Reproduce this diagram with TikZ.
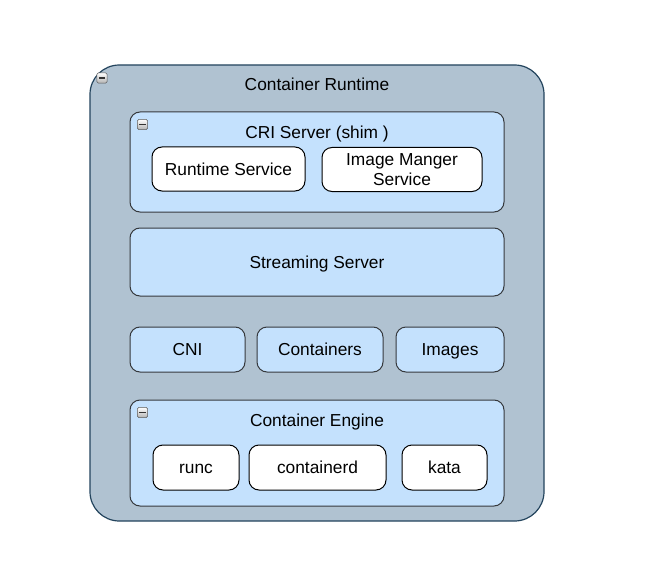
\documentclass[tikz,border=0pt]{standalone}
\usepackage{fontspec}
\setmainfont{Liberation Sans}
\definecolor{outerfill}{HTML}{B0C2D1}
\definecolor{outerdraw}{HTML}{23445D}
\definecolor{innerfill}{HTML}{C4E1FD}
\definecolor{innerdraw}{HTML}{36393D}
\tikzset{
  lbl/.style={font=\fontsize{13pt}{15pt}\selectfont, text=black},
  one/.style={text height=9.4pt, text depth=0pt},
  outerbox/.style={draw=outerdraw, fill=outerfill, line width=0.9pt, rounded corners=22pt, inner sep=0pt},
  groupbox/.style={draw=innerdraw, fill=innerfill, line width=0.75pt, rounded corners=7.5pt, inner sep=0pt},
  leafbox/.style={draw=black, fill=white, line width=0.75pt, rounded corners=7.5pt, inner sep=0pt, align=center, lbl},
  bluebox/.style={draw=innerdraw, fill=innerfill, line width=0.75pt, rounded corners=7.5pt, inner sep=0pt, align=center, lbl},
  iconbox/.style={draw=gray!70!black, top color=white, bottom color=gray!60, line width=0.4pt, rounded corners=1.2pt, minimum size=7.8pt, inner sep=0pt}
}
\begin{document}
\begin{tikzpicture}[x=0.75pt,y=-0.75pt]
\useasboundingbox (0,0) rectangle (649,563);
% outer
\node[outerbox, minimum width=340.5pt, minimum height=342pt] (outer) at (317,293) {};
\node[lbl, one] (outert) at (317,84) {Container Runtime};
\node[iconbox] (outeric) at (102,78) {};
\draw[line width=1pt, black!80] ([xshift=-2.3pt]outeric.center) -- ([xshift=2.3pt]outeric.center);
% CRI
\node[groupbox, minimum width=280.5pt, minimum height=75pt] (cri) at (317,162) {};
\node[lbl, one] (crit) at (317,132) {CRI Server (shim )};
\node[iconbox] (criic) at (142.5,124.5) {};
\draw[line width=1pt, black!80] ([xshift=-2.3pt]criic.center) -- ([xshift=2.3pt]criic.center);
\node[leafbox, one, minimum width=114.75pt, minimum height=33pt] (rs) at (228.5,169) {Runtime Service};
\node[leafbox, minimum width=120pt, minimum height=33pt] (ims) at (402,169.5) {Image Manger\\Service};
% Streaming
\node[bluebox, one, minimum width=280.5pt, minimum height=51pt] (ss) at (317,262) {Streaming Server};
% middle row
\node[bluebox, one, minimum width=86.25pt, minimum height=33.75pt] (cni) at (187.5,349.5) {CNI};
\node[bluebox, one, minimum width=94.5pt, minimum height=33.75pt] (ctr) at (320,349.5) {Containers};
\node[bluebox, one, minimum width=81pt, minimum height=33.75pt] (img) at (450,349.5) {Images};
% Engine
\node[groupbox, minimum width=280.5pt, minimum height=79.5pt] (eng) at (317,453) {};
\node[lbl, one] (engt) at (317,420) {Container Engine};
\node[iconbox] (engic) at (142.5,412.5) {};
\draw[line width=1pt, black!80] ([xshift=-2.3pt]engic.center) -- ([xshift=2.3pt]engic.center);
\node[leafbox, one, minimum width=64.5pt, minimum height=33.75pt] (runc) at (196,467.5) {runc};
\node[leafbox, one, minimum width=102.75pt, minimum height=33.75pt] (cd) at (317.5,467.5) {containerd};
\node[leafbox, one, minimum width=63.75pt, minimum height=33.75pt] (kata) at (444.5,467.5) {kata};
\end{tikzpicture}
\end{document}
